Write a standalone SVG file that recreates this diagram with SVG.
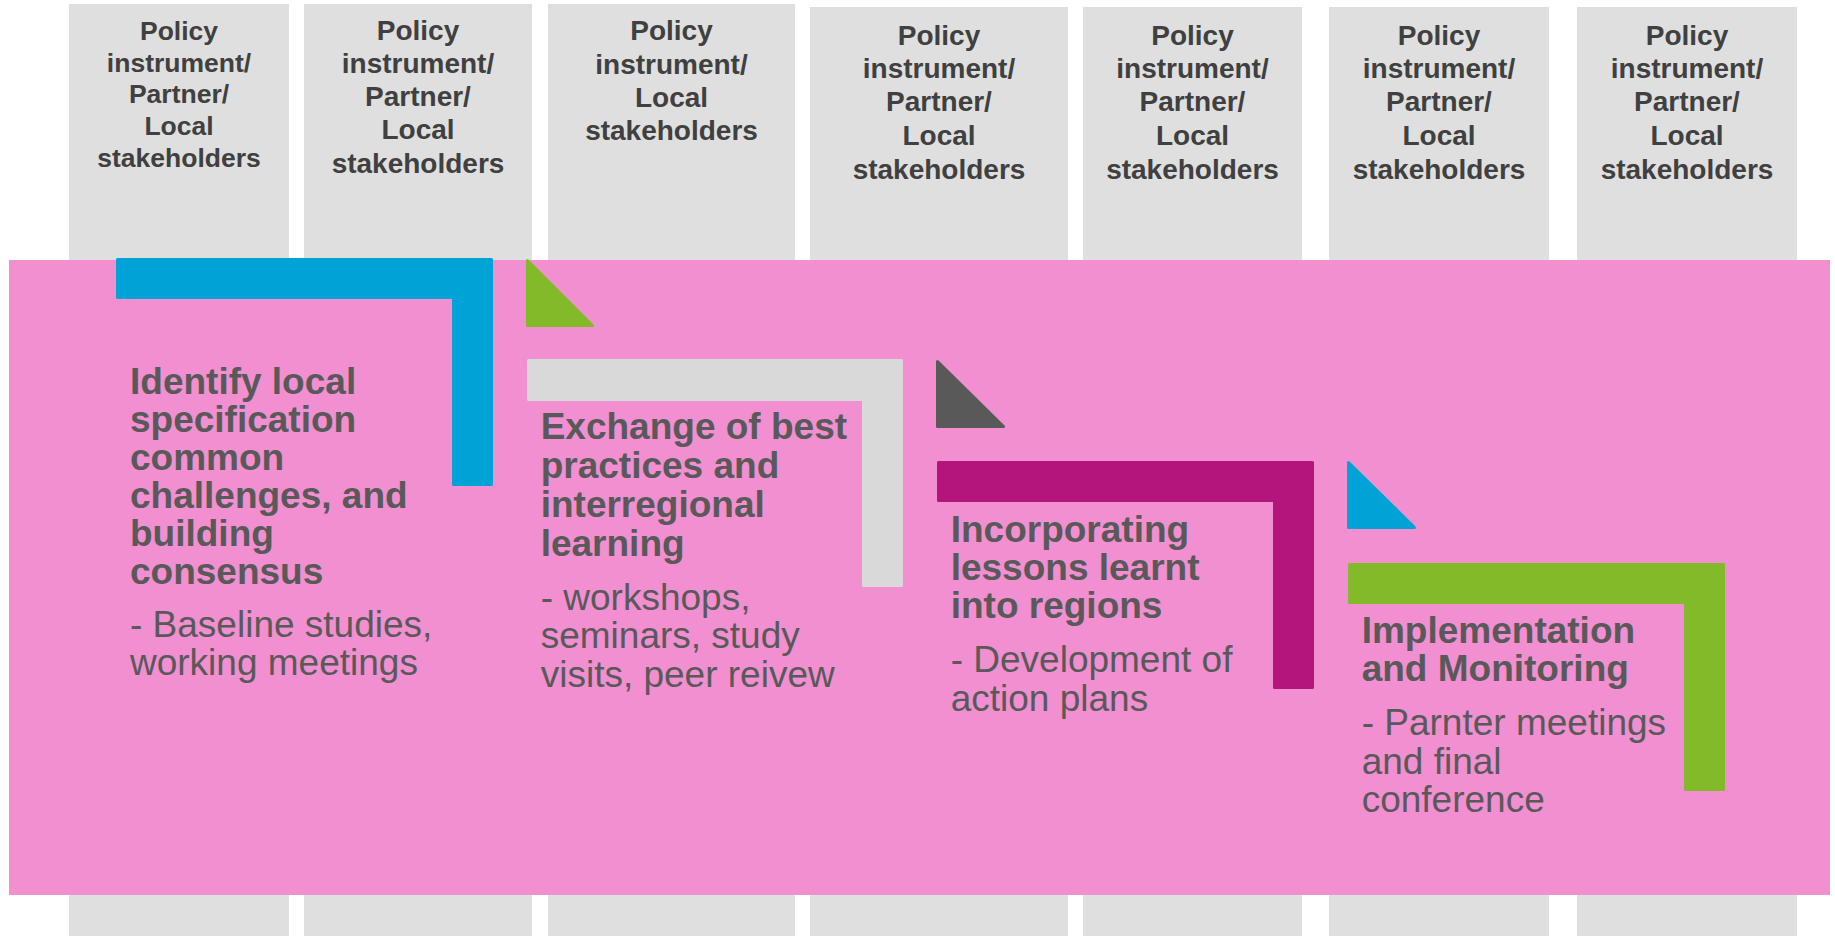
<svg xmlns="http://www.w3.org/2000/svg" width="1835" height="936" viewBox="0 0 1835 936">
<style>
.box{fill:#dfdfdf}
.bt{font-family:"Liberation Sans",Arial,sans-serif;font-weight:bold;fill:#404040;text-anchor:middle}
.h{font-family:"Liberation Sans",Arial,sans-serif;font-weight:bold;font-size:37px;fill:#595959}
.s{font-family:"Liberation Sans",Arial,sans-serif;font-size:37px;fill:#595959}
.l{stroke-linejoin:round;stroke-width:3}
</style>
<rect width="1835" height="936" fill="#ffffff"/>
<g id="columns">
<g id="col1"><rect class="box" x="69" y="4" width="220" height="932"/>
<text class="bt" font-size="26.5"><tspan x="179" y="40">Policy</tspan><tspan x="179" y="71.7">instrument/</tspan><tspan x="179" y="103.3">Partner/</tspan><tspan x="179" y="135">Local</tspan><tspan x="179" y="166.7">stakeholders</tspan></text></g>
<g id="col2"><rect class="box" x="304" y="4" width="228" height="932"/>
<text class="bt" font-size="28"><tspan x="418" y="40">Policy</tspan><tspan x="418" y="73">instrument/</tspan><tspan x="418" y="106">Partner/</tspan><tspan x="418" y="139">Local</tspan><tspan x="418" y="173">stakeholders</tspan></text></g>
<g id="col3"><rect class="box" x="548" y="4" width="247" height="932"/>
<text class="bt" font-size="28"><tspan x="671.5" y="40">Policy</tspan><tspan x="671.5" y="74">instrument/</tspan><tspan x="671.5" y="106.7">Local</tspan><tspan x="671.5" y="140">stakeholders</tspan></text></g>
<g id="col4"><rect class="box" x="810" y="7" width="258" height="929"/>
<text class="bt" font-size="28"><tspan x="939" y="45">Policy</tspan><tspan x="939" y="78.3">instrument/</tspan><tspan x="939" y="111">Partner/</tspan><tspan x="939" y="145">Local</tspan><tspan x="939" y="179">stakeholders</tspan></text></g>
<g id="col5"><rect class="box" x="1083" y="7" width="219" height="929"/>
<text class="bt" font-size="28"><tspan x="1192.5" y="45">Policy</tspan><tspan x="1192.5" y="78.3">instrument/</tspan><tspan x="1192.5" y="111">Partner/</tspan><tspan x="1192.5" y="145">Local</tspan><tspan x="1192.5" y="179">stakeholders</tspan></text></g>
<g id="col6"><rect class="box" x="1329" y="7" width="220" height="929"/>
<text class="bt" font-size="28"><tspan x="1439" y="45">Policy</tspan><tspan x="1439" y="78.3">instrument/</tspan><tspan x="1439" y="111">Partner/</tspan><tspan x="1439" y="145">Local</tspan><tspan x="1439" y="179">stakeholders</tspan></text></g>
<g id="col7"><rect class="box" x="1577" y="7" width="220" height="929"/>
<text class="bt" font-size="28"><tspan x="1687" y="45">Policy</tspan><tspan x="1687" y="78.3">instrument/</tspan><tspan x="1687" y="111">Partner/</tspan><tspan x="1687" y="145">Local</tspan><tspan x="1687" y="179">stakeholders</tspan></text></g>
</g>
<rect id="band" x="9" y="260" width="1821" height="635" fill="#f18fd0"/>
<g id="connectors">
<path class="l" d="M527.5,260.5 V325.5 H592.5 Z" fill="#83ba29" stroke="#83ba29"/>
<path class="l" d="M937.5,361.5 V426.5 H1003.5 Z" fill="#595959" stroke="#595959"/>
<path class="l" d="M1348.5,462.5 V527.5 H1414.5 Z" fill="#00a3d6" stroke="#00a3d6"/>
</g>
<g id="step1">
<path class="l" d="M117.5,259.5 H491.5 V484.5 H453.5 V297.5 H117.5 Z" fill="#00a3d6" stroke="#00a3d6"/>
<text class="h"><tspan x="130" y="393.5">Identify local</tspan><tspan x="130" y="431.5">specification</tspan><tspan x="130" y="469.5">common</tspan><tspan x="130" y="507.5">challenges, and</tspan><tspan x="130" y="545.5">building</tspan><tspan x="130" y="583.5">consensus</tspan></text>
<text class="s"><tspan x="130" y="636.7">- Baseline studies,</tspan><tspan x="130" y="675">working meetings</tspan></text>
</g>
<g id="step2">
<path class="l" d="M528.5,360.5 H901.5 V585.5 H863.5 V399.5 H528.5 Z" fill="#d9d9d9" stroke="#d9d9d9"/>
<text class="h"><tspan x="540.7" y="439.3">Exchange of best</tspan><tspan x="540.7" y="477.5">practices and</tspan><tspan x="540.7" y="516.5">interregional</tspan><tspan x="540.7" y="555.5">learning</tspan></text>
<text class="s"><tspan x="540.7" y="610">- workshops,</tspan><tspan x="540.7" y="648.3">seminars, study</tspan><tspan x="540.7" y="686.7">visits, peer reivew</tspan></text>
</g>
<g id="step3">
<path class="l" d="M938.5,462.5 H1312.5 V687.5 H1274.5 V500.5 H938.5 Z" fill="#b4157c" stroke="#b4157c"/>
<text class="h"><tspan x="950.7" y="542.3">Incorporating</tspan><tspan x="950.7" y="580.3">lessons learnt</tspan><tspan x="950.7" y="618.3">into regions</tspan></text>
<text class="s"><tspan x="950.7" y="672.3">- Development of</tspan><tspan x="950.7" y="711">action plans</tspan></text>
</g>
<g id="step4">
<path class="l" d="M1349.5,564.5 H1723.5 V789.5 H1685.5 V602.5 H1349.5 Z" fill="#83ba29" stroke="#83ba29"/>
<text class="h"><tspan x="1361.7" y="643.3">Implementation</tspan><tspan x="1361.7" y="680.7">and Monitoring</tspan></text>
<text class="s"><tspan x="1361.7" y="735">- Parnter meetings</tspan><tspan x="1361.7" y="774">and final</tspan><tspan x="1361.7" y="811.7">conference</tspan></text>
</g>
</svg>
